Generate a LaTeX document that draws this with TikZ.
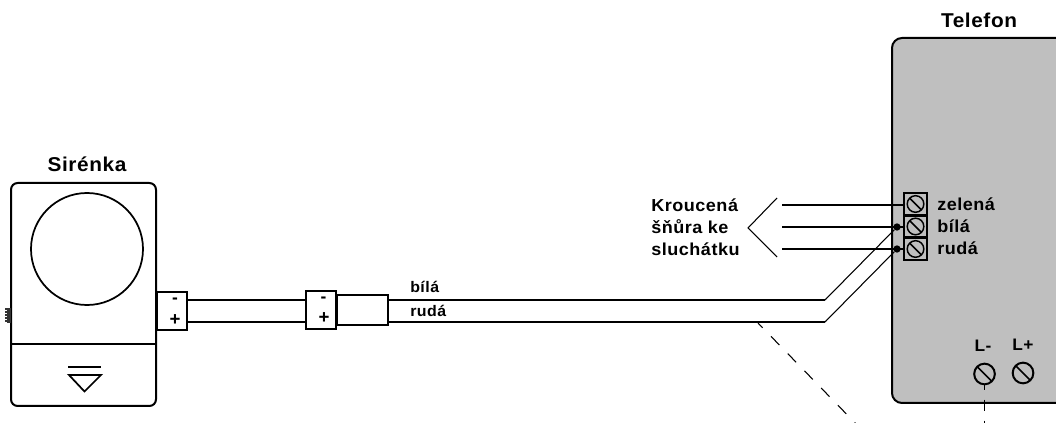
\documentclass[tikz,border=0pt]{standalone}
\usepackage{fontspec}
\usetikzlibrary{calc}
\setmainfont{Liberation Sans}[BoldFont={Liberation Sans Bold}]
\newfontface\lblfont{Liberation Sans Bold}[LetterSpace=3,FakeStretch=1.04]
\begin{document}
\begin{tikzpicture}[x=0.75pt,y=-0.75pt,
  thick line/.style={line width=1.5pt},
  wire/.style={line width=1.5pt},
  thin wire/.style={line width=0.8pt},
  lbl/.style={font=\lblfont\fontsize{15}{17}\selectfont,inner sep=0pt,text=black},
  lblm/.style={font=\lblfont\fontsize{13}{15}\selectfont,inner sep=0pt,text=black,anchor=west},
  lbls/.style={font=\lblfont\fontsize{11.5}{13}\selectfont,inner sep=0pt,text=black,anchor=west},
  lblL/.style={font=\lblfont\fontsize{12.5}{14}\selectfont,inner sep=0pt,text=black},
  blockbox/.style={draw,thick line,fill=white,inner sep=0pt,minimum width=22.5pt,minimum height=28.5pt},
  cell/.style={draw,line width=1.8pt,inner sep=0pt,minimum width=17pt,minimum height=16.5pt},
  dash1/.style={line width=0.8pt,dash pattern=on 9pt off 9pt},
  screw/.style={draw,line width=1.5pt,circle,minimum size=15.5pt,inner sep=0pt},
  screwdot/.style={circle,fill=black,inner sep=0pt,minimum size=5.5pt}]
\useasboundingbox (0,0) rectangle (1056,423);
\begin{scope}
\clip (0,0) rectangle (1056,423);
% Telefon body
\draw[thick line,fill=black!25,rounded corners=7.5pt] (1070,38) -- (892,38) -- (892,403) -- (1070,403);
\node[lbl] (tel) at (979,20) {Telefon};
% Sirenka
\node[lbl] (sir) at (87,164) {Sirénka};
\draw[thick line,rounded corners=5pt] (11,183) rectangle (156,406);
\draw[thick line] (11,344) -- (156,344);
\node[draw,line width=1.3pt,circle,minimum size=84pt,inner sep=0pt] (horn) at (87,249) {};
\draw[line width=1.6pt] (68,367) -- (101,367);
\draw[line width=1.3pt] (69,375) -- (101,375) -- (84.5,391.5) -- cycle;
\fill[black!80] (5,308) rectangle (11,323);
\foreach \y in {310,313,316,319,322} \draw[white,line width=0.3pt] (5,\y) -- (7,\y);
% Wires
\coordinate (bw) at (825,300);
\coordinate (rw) at (825,322);
\node[screwdot] (d2) at (897,227) {};
\node[screwdot] (d3) at (897,249) {};
\node[blockbox] (b1) at (172,311) {};
\node[blockbox] (b2) at (320.5,310) {};
\node[draw,thick line,fill=white,inner sep=0pt,minimum width=38pt,minimum height=22.5pt] (plug) at (362.5,310) {};
\draw[wire] (b1.east |- bw) -- (b2.west |- bw);
\draw[wire] (b1.east |- rw) -- (b2.west |- rw);
\draw[wire] (plug.east |- bw) -- (bw);
\draw[wire] (plug.east |- rw) -- (rw);
\draw[thin wire] (bw) -- (d2);
\draw[thin wire] (rw) -- (d3);
\node[font=\bfseries\fontsize{13}{14}\selectfont,inner sep=0pt] (m1) at (175,301) {-};
\node[font=\bfseries\fontsize{14}{14}\selectfont,inner sep=0pt] (p1) at (175,320) {+};
\node[font=\bfseries\fontsize{13}{14}\selectfont,inner sep=0pt] (m2) at (323.5,300) {-};
\node[font=\bfseries\fontsize{14}{14}\selectfont,inner sep=0pt] (p2) at (324,318) {+};
\node[lbls] (lb) at (410,287) {bílá};
\node[lbls] (lr) at (410,311) {rudá};
% Terminal block
\node[cell] (c1) at (915.5,204) {};
\node[cell] (c2) at (915.5,226.5) {};
\node[cell] (c3) at (915.5,249) {};
\foreach \c in {c1,c2,c3}{
  \draw[line width=1.1pt] (\c.center) circle[radius=8.3];
  \draw[line width=1.1pt] ($(\c.center)+(-5.8,-5.8)$) -- ($(\c.center)+(5.8,5.8)$);
}
% Cord
\coordinate (w1) at (782,205);
\coordinate (w2) at (782,227);
\coordinate (w3) at (782,249);
\draw[wire] (w1) -- (c1.west |- w1);
\draw[wire] (w2) -- (c2.west |- w2);
\draw[wire] (w3) -- (c3.west |- w3);
\coordinate (ch1) at (777,198);
\coordinate (ch2) at (748,228);
\coordinate (ch3) at (777,257);
\draw[thin wire] (ch1) -- (ch2) -- (ch3);
\node[lblm] (k1) at (651,205) {Kroucená};
\node[lblm] (k2) at (651,227) {šňůra ke};
\node[lblm] (k3) at (651,249) {sluchátku};
\node[lblm] (z) at (937,204) {zelená};
\node[lblm] (bi) at (937,226) {bílá};
\node[lblm] (ru) at (937,248) {rudá};
% L terminals
\node[screw] (lm) at (984.5,374) {};
\node[screw] (lp) at (1023,373) {};
\foreach \c in {lm,lp}
  \draw[line width=1.3pt] ($(\c.center)+(-7,-7)$) -- ($(\c.center)+(7,7)$);
\node[lblL] (llm) at (983,346) {L-};
\node[lblL] (llp) at (1023,345) {L+};
% Dashed
\coordinate (e1) at (758,323);
\coordinate (e2) at (860,428);
\coordinate (e3) at (984.5,430);
\draw[dash1,dash phase=4pt] (e1) -- (e2);
\draw[line width=1pt,dash pattern=on 8.25pt off 7.5pt,dash phase=5pt] (lm.south) -- (lm.south |- e3);
\end{scope}
\end{tikzpicture}
\end{document}
